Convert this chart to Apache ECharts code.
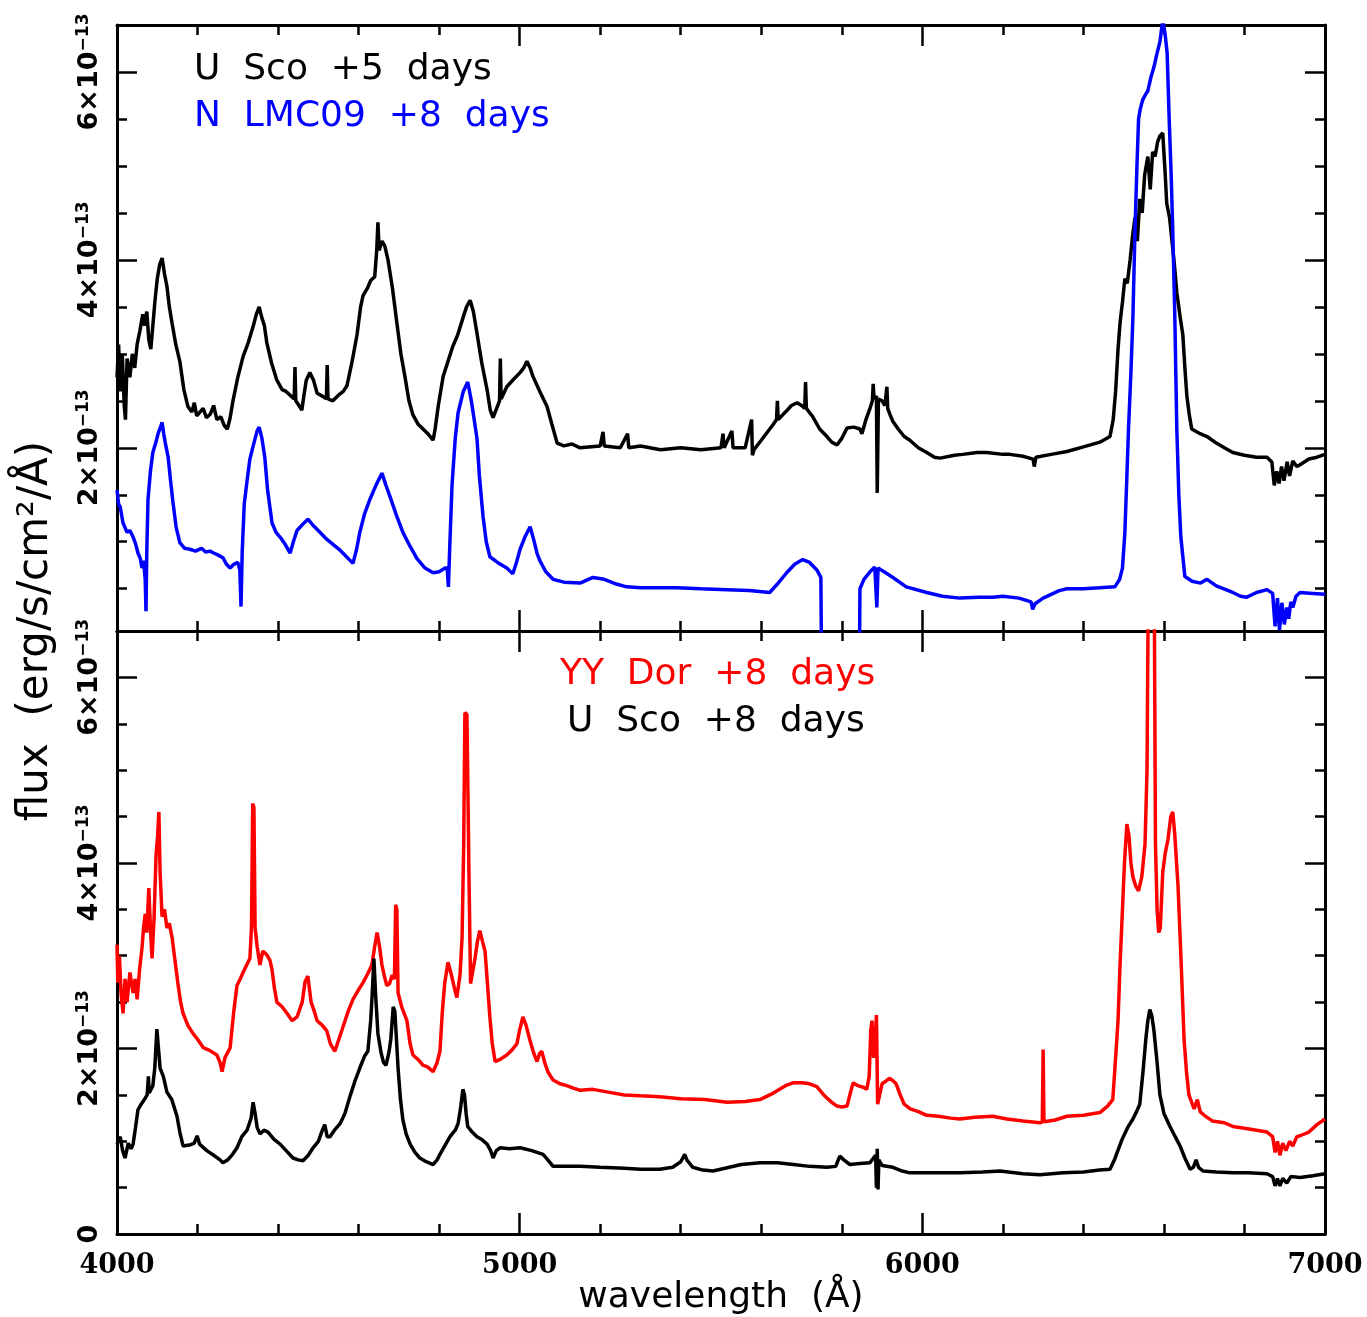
<!DOCTYPE html>
<html>
<head>
<meta charset="utf-8">
<script src="https://cdn.jsdelivr.net/npm/echarts@6/dist/echarts.min.js"></script>
<style>html,body{margin:0;padding:0;background:#fff}#c{width:1367px;height:1317px}</style>
</head>
<body>
<div id="c"></div>
<script>
// Flux values in units of 1e-13 erg/s/cm2/A, wavelength in Angstrom
const uSco5 = [[4000,2.75],[4004,3.1],[4008,2.6],[4013,3.0],[4018,2.45],[4021,2.3],[4025,2.95],[4032,2.75],[4038,3.0],[4044,2.85],[4050,3.1],[4057,3.25],[4064,3.42],[4069,3.3],[4074,3.45],[4079,3.15],[4084,3.05],[4089,3.3],[4094,3.55],[4100,3.8],[4106,3.95],[4112,4.02],[4118,3.85],[4124,3.72],[4130,3.5],[4137,3.32],[4146,3.1],[4156,2.92],[4166,2.62],[4176,2.44],[4186,2.38],[4192,2.48],[4198,2.34],[4206,2.38],[4214,2.42],[4222,2.32],[4232,2.36],[4240,2.45],[4248,2.3],[4258,2.33],[4266,2.24],[4274,2.2],[4281,2.32],[4288,2.5],[4300,2.75],[4313,2.97],[4326,3.12],[4338,3.29],[4346,3.42],[4353,3.5],[4360,3.38],[4366,3.3],[4372,3.12],[4384,2.9],[4397,2.72],[4410,2.62],[4420,2.6],[4430,2.56],[4440,2.52],[4442,2.86],[4444,2.5],[4452,2.45],[4459,2.4],[4464,2.55],[4470,2.72],[4479,2.8],[4488,2.72],[4497,2.58],[4510,2.55],[4520,2.52],[4522,2.88],[4524,2.52],[4536,2.5],[4550,2.56],[4562,2.6],[4571,2.66],[4583,2.9],[4596,3.2],[4605,3.5],[4611,3.62],[4622,3.7],[4630,3.78],[4640,3.82],[4645,4.1],[4648,4.4],[4651,4.1],[4658,4.2],[4665,4.15],[4673,4.0],[4684,3.7],[4695,3.33],[4705,3.0],[4715,2.76],[4725,2.5],[4735,2.35],[4748,2.25],[4760,2.2],[4772,2.15],[4785,2.08],[4790,2.2],[4798,2.45],[4810,2.76],[4822,2.92],[4834,3.08],[4846,3.2],[4859,3.38],[4868,3.5],[4877,3.57],[4885,3.45],[4894,3.22],[4906,2.9],[4919,2.62],[4927,2.4],[4934,2.32],[4950,2.5],[4952,2.95],[4954,2.52],[4968,2.65],[4985,2.73],[5001,2.8],[5010,2.85],[5018,2.92],[5026,2.85],[5033,2.76],[5050,2.6],[5068,2.44],[5080,2.25],[5093,2.05],[5110,2.02],[5130,2.04],[5150,2.0],[5200,2.02],[5207,2.17],[5210,2.02],[5250,2.0],[5268,2.15],[5271,2.0],[5300,2.02],[5350,1.98],[5400,2.0],[5450,1.98],[5500,2.0],[5505,2.15],[5508,2.0],[5527,2.18],[5530,2.0],[5560,2.0],[5576,2.3],[5578,1.92],[5582,1.98],[5600,2.08],[5614,2.16],[5630,2.25],[5638,2.3],[5640,2.5],[5642,2.3],[5660,2.38],[5675,2.45],[5689,2.48],[5700,2.45],[5708,2.42],[5710,2.7],[5712,2.42],[5728,2.33],[5745,2.2],[5763,2.12],[5775,2.06],[5788,2.03],[5800,2.1],[5813,2.21],[5830,2.22],[5845,2.2],[5850,2.15],[5860,2.3],[5870,2.42],[5876,2.5],[5878,2.68],[5880,2.52],[5886,2.55],[5888,1.52],[5891,2.52],[5900,2.5],[5907,2.45],[5912,2.65],[5914,2.42],[5920,2.35],[5927,2.28],[5940,2.2],[5955,2.12],[5969,2.08],[5990,2.0],[6011,1.95],[6030,1.9],[6044,1.89],[6080,1.92],[6100,1.93],[6136,1.95],[6160,1.95],[6200,1.93],[6217,1.93],[6250,1.91],[6275,1.88],[6278,1.8],[6282,1.9],[6320,1.93],[6359,1.96],[6400,2.01],[6441,2.06],[6466,2.12],[6474,2.3],[6480,2.6],[6486,3.05],[6491,3.33],[6497,3.55],[6503,3.8],[6509,3.75],[6516,4.0],[6522,4.25],[6528,4.45],[6534,4.2],[6540,4.65],[6546,4.5],[6552,4.9],[6560,5.1],[6566,4.75],[6572,5.15],[6578,5.1],[6584,5.25],[6590,5.32],[6597,5.35],[6602,5.0],[6607,4.6],[6614,4.45],[6620,4.2],[6626,3.95],[6632,3.65],[6640,3.4],[6647,3.2],[6652,2.85],[6657,2.55],[6663,2.35],[6669,2.2],[6690,2.15],[6707,2.12],[6730,2.05],[6750,2.0],[6771,1.95],[6800,1.92],[6830,1.9],[6856,1.9],[6868,1.85],[6874,1.6],[6880,1.75],[6886,1.62],[6892,1.8],[6898,1.65],[6906,1.85],[6912,1.7],[6920,1.86],[6930,1.8],[6938,1.82],[6960,1.88],[6980,1.9],[7000,1.93]];

const nLMC09 = [[4000,1.55],[4004,1.4],[4008,1.37],[4015,1.2],[4025,1.1],[4032,1.12],[4040,1.05],[4046,0.98],[4052,0.88],[4058,0.82],[4062,0.72],[4066,0.8],[4070,0.6],[4072,0.26],[4074,0.9],[4077,1.45],[4083,1.75],[4089,1.95],[4096,2.05],[4102,2.15],[4108,2.22],[4112,2.27],[4116,2.15],[4120,2.05],[4127,1.9],[4133,1.65],[4139,1.42],[4147,1.15],[4156,0.99],[4168,0.93],[4181,0.92],[4195,0.9],[4210,0.93],[4220,0.89],[4231,0.9],[4240,0.88],[4250,0.86],[4263,0.83],[4272,0.76],[4281,0.72],[4290,0.76],[4300,0.78],[4305,0.7],[4308,0.31],[4311,0.9],[4316,1.4],[4323,1.65],[4330,1.88],[4340,2.05],[4348,2.18],[4353,2.22],[4360,2.1],[4367,1.9],[4374,1.55],[4385,1.2],[4395,1.1],[4405,1.05],[4418,0.97],[4430,0.88],[4438,1.0],[4447,1.12],[4460,1.18],[4474,1.24],[4488,1.17],[4504,1.1],[4520,1.03],[4537,0.97],[4554,0.91],[4570,0.84],[4586,0.77],[4595,0.92],[4603,1.1],[4615,1.3],[4628,1.45],[4643,1.6],[4658,1.73],[4668,1.6],[4678,1.48],[4694,1.28],[4710,1.1],[4728,0.95],[4745,0.82],[4765,0.72],[4785,0.67],[4800,0.68],[4815,0.72],[4820,0.72],[4823,0.52],[4826,0.9],[4832,1.6],[4840,2.1],[4847,2.37],[4860,2.6],[4871,2.7],[4880,2.5],[4887,2.3],[4894,2.1],[4900,1.7],[4909,1.27],[4917,1.0],[4926,0.84],[4945,0.78],[4968,0.72],[4983,0.66],[4992,0.78],[5001,0.92],[5013,1.05],[5026,1.16],[5035,1.02],[5043,0.88],[5050,0.8],[5065,0.68],[5083,0.6],[5110,0.57],[5150,0.56],[5182,0.62],[5210,0.6],[5240,0.55],[5266,0.52],[5300,0.51],[5350,0.51],[5391,0.51],[5450,0.5],[5515,0.49],[5570,0.48],[5621,0.46],[5640,0.55],[5663,0.67],[5683,0.76],[5703,0.81],[5720,0.78],[5738,0.7],[5748,0.62],[5751,-1.0],[5843,-1.0],[5845,0.5],[5855,0.6],[5870,0.68],[5882,0.73],[5887,0.3],[5890,0.72],[5905,0.68],[5927,0.62],[5960,0.52],[6011,0.46],[6050,0.42],[6093,0.4],[6140,0.41],[6175,0.41],[6200,0.42],[6240,0.4],[6270,0.36],[6274,0.28],[6280,0.34],[6300,0.4],[6320,0.44],[6340,0.48],[6359,0.5],[6400,0.5],[6440,0.51],[6478,0.52],[6490,0.6],[6497,0.72],[6503,1.1],[6508,1.7],[6512,2.2],[6518,2.8],[6523,3.4],[6528,4.3],[6533,5.0],[6537,5.5],[6541,5.6],[6547,5.7],[6553,5.75],[6560,5.8],[6568,5.95],[6575,6.05],[6583,6.2],[6590,6.32],[6597,6.55],[6603,6.4],[6608,6.2],[6613,5.5],[6618,4.9],[6622,4.3],[6627,3.4],[6632,2.2],[6637,1.5],[6642,1.05],[6652,0.63],[6670,0.58],[6691,0.56],[6707,0.6],[6730,0.53],[6771,0.46],[6790,0.42],[6806,0.41],[6830,0.46],[6856,0.49],[6870,0.45],[6876,0.1],[6882,0.4],[6887,0.06],[6893,0.35],[6899,0.12],[6905,0.3],[6910,0.18],[6915,0.36],[6920,0.3],[6928,0.42],[6938,0.46],[6970,0.45],[7000,0.44]];

const yyDor8 = [[4000,3.12],[4002,2.71],[4006,3.0],[4010,2.6],[4015,2.38],[4020,2.75],[4025,2.5],[4032,2.82],[4040,2.6],[4045,2.75],[4050,2.53],[4056,2.85],[4062,3.08],[4066,3.3],[4070,3.45],[4074,3.25],[4079,3.73],[4083,3.3],[4087,2.97],[4092,3.4],[4097,4.08],[4101,4.3],[4104,4.55],[4107,3.9],[4112,3.42],[4118,3.5],[4124,3.3],[4130,3.35],[4137,3.19],[4144,2.95],[4151,2.71],[4158,2.5],[4164,2.38],[4176,2.25],[4189,2.16],[4200,2.1],[4214,2.01],[4230,1.98],[4248,1.93],[4256,1.85],[4261,1.75],[4268,1.9],[4281,2.01],[4290,2.4],[4298,2.68],[4306,2.75],[4313,2.82],[4322,2.9],[4330,2.97],[4334,3.3],[4337,4.64],[4340,4.6],[4343,3.3],[4348,3.1],[4355,2.9],[4362,3.05],[4372,3.01],[4380,2.95],[4385,2.85],[4391,2.65],[4397,2.5],[4410,2.45],[4422,2.38],[4435,2.3],[4447,2.34],[4460,2.5],[4467,2.72],[4474,2.78],[4482,2.5],[4490,2.4],[4497,2.3],[4510,2.25],[4521,2.19],[4530,2.05],[4541,1.97],[4551,2.1],[4561,2.23],[4574,2.4],[4586,2.53],[4598,2.62],[4611,2.71],[4622,2.8],[4633,2.9],[4640,3.1],[4646,3.25],[4652,3.1],[4658,2.9],[4664,2.78],[4670,2.68],[4677,2.7],[4683,2.79],[4689,2.75],[4692,3.55],[4695,3.5],[4698,2.6],[4707,2.45],[4720,2.3],[4728,2.05],[4735,1.93],[4748,1.88],[4760,1.82],[4772,1.8],[4785,1.75],[4795,1.85],[4802,1.97],[4808,2.4],[4814,2.71],[4822,2.93],[4830,2.8],[4838,2.65],[4844,2.55],[4852,2.8],[4857,3.2],[4861,4.2],[4864,5.62],[4869,5.6],[4872,4.6],[4874,3.9],[4878,2.7],[4882,2.68],[4889,2.97],[4895,3.15],[4901,3.27],[4908,3.15],[4914,3.05],[4920,2.7],[4926,2.34],[4932,2.05],[4939,1.86],[4950,1.88],[4968,1.93],[4980,1.98],[4993,2.05],[5000,2.2],[5008,2.34],[5016,2.25],[5026,2.08],[5035,1.95],[5043,1.86],[5050,1.95],[5055,1.97],[5062,1.85],[5070,1.75],[5083,1.66],[5100,1.62],[5117,1.6],[5135,1.57],[5150,1.55],[5182,1.56],[5220,1.53],[5260,1.5],[5300,1.49],[5348,1.48],[5400,1.46],[5460,1.45],[5515,1.42],[5560,1.43],[5597,1.45],[5630,1.52],[5660,1.6],[5679,1.63],[5700,1.63],[5720,1.62],[5738,1.59],[5755,1.5],[5775,1.42],[5788,1.38],[5800,1.37],[5813,1.38],[5820,1.5],[5828,1.63],[5840,1.6],[5855,1.58],[5862,1.56],[5868,1.7],[5872,2.2],[5875,2.3],[5879,1.9],[5883,2.1],[5886,2.36],[5889,1.4],[5894,1.5],[5900,1.62],[5910,1.65],[5918,1.68],[5925,1.66],[5935,1.62],[5945,1.5],[5955,1.4],[5970,1.35],[5990,1.32],[6011,1.28],[6040,1.27],[6070,1.25],[6093,1.24],[6130,1.26],[6175,1.27],[6210,1.24],[6250,1.22],[6292,1.2],[6298,1.21],[6300,1.99],[6302,1.21],[6330,1.23],[6359,1.27],[6400,1.28],[6441,1.31],[6460,1.38],[6473,1.45],[6480,1.9],[6486,2.3],[6491,2.9],[6496,3.4],[6502,4.0],[6508,4.42],[6513,4.3],[6518,4.0],[6523,3.85],[6530,3.75],[6537,3.7],[6545,3.85],[6553,4.2],[6558,5.0],[6561,6.9],[6570,6.9],[6576,6.9],[6579,4.2],[6583,3.5],[6587,3.25],[6591,3.3],[6597,3.9],[6603,4.1],[6610,4.25],[6617,4.5],[6622,4.55],[6627,4.3],[6635,3.75],[6643,2.9],[6650,2.1],[6656,1.75],[6662,1.5],[6675,1.35],[6683,1.45],[6690,1.32],[6700,1.28],[6720,1.22],[6750,1.2],[6771,1.16],[6800,1.14],[6830,1.12],[6856,1.1],[6870,1.05],[6876,0.88],[6882,1.0],[6888,0.85],[6895,0.98],[6903,0.9],[6912,1.0],[6920,0.95],[6930,1.05],[6938,1.06],[6960,1.1],[6980,1.18],[7000,1.24]];

const uSco8 = [[4000,0.97],[4008,1.05],[4014,0.9],[4020,0.82],[4028,0.98],[4035,0.92],[4040,0.97],[4046,1.15],[4052,1.34],[4060,1.4],[4068,1.45],[4075,1.5],[4078,1.7],[4080,1.52],[4089,1.6],[4094,1.8],[4099,2.21],[4103,2.0],[4107,1.79],[4115,1.7],[4124,1.53],[4136,1.45],[4149,1.27],[4156,1.1],[4164,0.95],[4180,0.96],[4192,0.98],[4199,1.06],[4205,0.97],[4223,0.9],[4240,0.85],[4256,0.8],[4263,0.77],[4275,0.8],[4287,0.86],[4298,0.93],[4310,1.05],[4323,1.12],[4333,1.25],[4338,1.42],[4343,1.3],[4348,1.15],[4355,1.08],[4365,1.12],[4375,1.1],[4390,1.02],[4405,0.97],[4420,0.9],[4437,0.82],[4450,0.8],[4462,0.79],[4475,0.85],[4487,0.93],[4500,1.0],[4510,1.12],[4516,1.18],[4522,1.05],[4529,1.05],[4540,1.12],[4554,1.19],[4566,1.3],[4579,1.49],[4591,1.65],[4603,1.79],[4615,1.92],[4623,1.97],[4630,2.3],[4634,2.6],[4638,2.97],[4642,2.6],[4648,2.16],[4656,1.95],[4662,1.85],[4668,1.82],[4675,1.95],[4680,2.1],[4686,2.45],[4690,2.4],[4694,2.1],[4698,1.79],[4704,1.45],[4710,1.23],[4718,1.08],[4728,0.97],[4740,0.88],[4752,0.82],[4768,0.78],[4785,0.75],[4795,0.8],[4802,0.86],[4815,0.96],[4827,1.05],[4840,1.12],[4847,1.19],[4853,1.35],[4859,1.56],[4863,1.5],[4867,1.3],[4871,1.16],[4882,1.1],[4894,1.05],[4906,1.02],[4919,0.97],[4928,0.9],[4934,0.82],[4942,0.9],[4951,0.93],[4975,0.92],[5001,0.93],[5030,0.9],[5058,0.86],[5070,0.8],[5083,0.73],[5110,0.73],[5150,0.73],[5200,0.72],[5260,0.71],[5300,0.7],[5348,0.7],[5380,0.72],[5400,0.78],[5410,0.86],[5415,0.8],[5430,0.72],[5455,0.69],[5480,0.68],[5510,0.71],[5550,0.75],[5597,0.77],[5640,0.77],[5680,0.75],[5720,0.73],[5763,0.72],[5785,0.73],[5795,0.84],[5805,0.8],[5820,0.75],[5845,0.76],[5870,0.77],[5884,0.85],[5886,0.5],[5888,0.92],[5890,0.48],[5892,0.8],[5900,0.74],[5927,0.72],[5950,0.68],[5969,0.66],[6020,0.66],[6093,0.66],[6150,0.67],[6193,0.68],[6250,0.65],[6292,0.64],[6350,0.66],[6400,0.67],[6440,0.69],[6466,0.7],[6478,0.81],[6490,0.95],[6496,1.02],[6510,1.15],[6523,1.24],[6532,1.32],[6540,1.4],[6548,1.75],[6555,2.1],[6560,2.3],[6565,2.42],[6570,2.35],[6575,2.2],[6583,1.85],[6590,1.5],[6600,1.3],[6615,1.16],[6628,1.05],[6640,0.95],[6652,0.82],[6665,0.7],[6673,0.72],[6680,0.8],[6686,0.72],[6697,0.68],[6730,0.67],[6771,0.66],[6810,0.66],[6856,0.65],[6870,0.62],[6876,0.52],[6882,0.6],[6888,0.52],[6895,0.6],[6905,0.55],[6915,0.62],[6938,0.61],[6970,0.63],[7000,0.65]];

const majorYTicks = [2, 4, 6];
const bottomYLabels = [0, 2, 4, 6];
const minorYTicks = [0.5, 1, 1.5, 2.5, 3, 3.5, 4.5, 5, 5.5];
const legendTop = ['U  Sco  +5  days', 'N  LMC09  +8  days'];
const legendBottom = ['YY  Dor  +8  days', 'U  Sco  +8  days'];

const chart = echarts.init(document.getElementById('c'), null, {renderer: 'canvas'});
const AX = {color: '#000', width: 3};
const TK = {color: '#000', width: 2.5};

function mkX(grid, pos, labels) {
  return {
    type: 'value', gridIndex: grid, position: pos, min: 4000, max: 7000, interval: 1000,
    axisLine: {show: true, onZero: false, lineStyle: AX},
    axisTick: {show: true, inside: true, length: 21, lineStyle: TK},
    minorTick: {show: true, splitNumber: 5, length: 10, lineStyle: TK},
    splitLine: {show: false}, minorSplitLine: {show: false},
    axisLabel: labels ? {show: true, margin: 18, color: '#000', fontFamily: 'DejaVu Serif', fontWeight: 'bold', fontSize: 27,
                         showMinLabel: true, showMaxLabel: true, formatter: function (v) { return String(v); }} : {show: false},
    name: labels ? 'wavelength  (Å)' : '', nameLocation: 'middle', nameGap: 37,
    nameTextStyle: {fontFamily: 'DejaVu Sans', fontSize: 36, color: '#000'}
  };
}
function fmtY(v) {
  if (v === 0) return '{m|0}';
  return '{m|' + v + '×10}{s|−13}';
}
function mkY(grid, pos, min, max, kind, labelVals) {
  const major = kind === 'major';
  return {
    type: 'value', gridIndex: grid, position: pos, offset: 0, min: min, max: max,
    axisLine: {show: major, onZero: false, lineStyle: AX},
    axisTick: {show: true, inside: true, length: major ? 20 : 10, lineStyle: TK,
               customValues: major ? majorYTicks : minorYTicks},
    splitLine: {show: false},
    axisLabel: labelVals ? {
      show: true, customValues: labelVals, rotate: 90, margin: 12, formatter: fmtY,
      rich: {
        m: {fontFamily: 'DejaVu Sans', fontWeight: 'bold', fontSize: 27, color: '#000', lineHeight: 30},
        s: {fontFamily: 'DejaVu Sans', fontWeight: 'bold', fontSize: 17, color: '#000', lineHeight: 18, verticalAlign: 'top'}
      }
    } : {show: false}
  };
}
const topMin = 0.05, topMax = 6.5, botMin = 0, botMax = 6.5;

function line(data, color, xi, yi) {
  return {type: 'line', data: data, xAxisIndex: xi, yAxisIndex: yi, showSymbol: false, symbol: 'none',
          clip: true, lineStyle: {color: color, width: 3.5}, itemStyle: {color: color}, silent: true};
}
function txt(s, x, y, color, size, rot) {
  return {type: 'text', x: x, y: y, rotation: rot || 0, silent: true,
          style: {text: s, fill: color, font: (size || 36) + 'px "DejaVu Sans"',
                  align: rot ? 'center' : 'left', textAlign: rot ? 'center' : 'left',
                  verticalAlign: 'middle', textVerticalAlign: 'middle'}};
}

chart.setOption({
  animation: false,
  backgroundColor: '#fff',
  grid: [
    {left: 117, right: 42, top: 25, height: 606},
    {left: 117, right: 42, top: 631, height: 604}
  ],
  xAxis: [mkX(0, 'bottom', false), mkX(0, 'top', false), mkX(1, 'top', false), mkX(1, 'bottom', true)],
  yAxis: [
    mkY(0, 'left', topMin, topMax, 'major', majorYTicks),
    mkY(0, 'left', topMin, topMax, 'minor', null),
    mkY(0, 'right', topMin, topMax, 'major', null),
    mkY(0, 'right', topMin, topMax, 'minor', null),
    mkY(1, 'left', botMin, botMax, 'major', bottomYLabels),
    mkY(1, 'left', botMin, botMax, 'minor', null),
    mkY(1, 'right', botMin, botMax, 'major', null),
    mkY(1, 'right', botMin, botMax, 'minor', null)
  ],
  series: [
    line(uSco5, '#000000', 0, 0),
    line(nLMC09, '#0000ff', 0, 0),
    line(yyDor8, '#ff0000', 3, 4),
    line(uSco8, '#000000', 3, 4)
  ],
  graphic: [
    txt(legendTop[0], 194, 70, '#000000'),
    txt(legendTop[1], 194, 117, '#0000ff'),
    txt(legendBottom[0], 560, 675, '#ff0000'),
    txt(legendBottom[1], 567, 722, '#000000'),
    txt('flux  (erg/s/cm²/Å)', 36, 631, '#000000', 42, Math.PI / 2)
  ]
});
</script>
</body>
</html>
